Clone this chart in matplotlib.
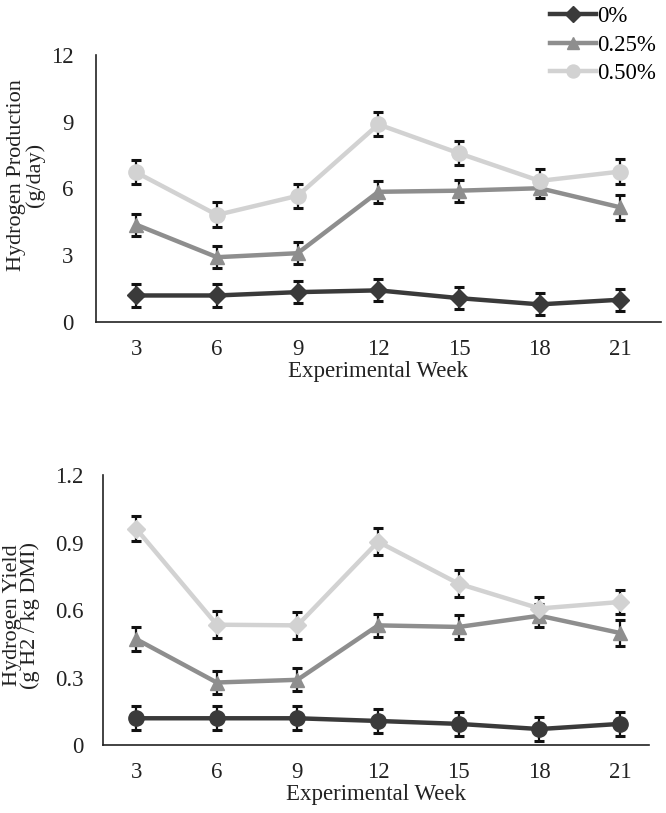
import matplotlib
matplotlib.use("Agg")
from matplotlib import pyplot as plt

plt.rcParams['font.family'] = ['Liberation Serif', 'DejaVu Serif']

# experimental weeks (x axis)
weeks = [3, 6, 9, 12, 15, 18, 21]
labels = ["0%", "0.25%", "0.50%"]

# hydrogen production, g/day
prod_0 = [1.19, 1.19, 1.34, 1.42, 1.07, 0.79, 1.00]
prod_025 = [4.37, 2.91, 3.09, 5.85, 5.90, 6.01, 5.15]
prod_050 = [6.72, 4.81, 5.67, 8.88, 7.58, 6.34, 6.76]
prod_0_err = [0.50, 0.50, 0.50, 0.50, 0.50, 0.50, 0.50]
prod_025_err = [0.49, 0.49, 0.49, 0.49, 0.49, 0.45, 0.56]
prod_050_err = [0.54, 0.56, 0.54, 0.54, 0.54, 0.52, 0.56]

# hydrogen yield, g H2 / kg DMI
yield_0 = [0.119, 0.119, 0.119, 0.107, 0.094, 0.071, 0.094]
yield_025 = [0.471, 0.278, 0.290, 0.532, 0.525, 0.575, 0.498]
yield_050 = [0.962, 0.535, 0.532, 0.904, 0.717, 0.607, 0.636]
yield_0_err = [0.053, 0.053, 0.053, 0.053, 0.053, 0.053, 0.053]
yield_025_err = [0.052, 0.052, 0.052, 0.052, 0.052, 0.052, 0.058]
yield_050_err = [0.057, 0.059, 0.059, 0.059, 0.059, 0.05, 0.052]

colors = ["#3a3a3a", "#8e8e8e", "#d2d2d2"]
msizes = {'D': 9.5, '^': 10, 'o': 11}


def draw_series(ax, values, errs, color, marker, label=None):
    # error bars first so the markers sit on top
    ax.errorbar(weeks, values, yerr=errs, fmt='none', ecolor='#111111',
                elinewidth=1.6, capsize=3.5, capthick=2.2, zorder=2)
    ax.plot(weeks, values, color=color, lw=3.2, marker=marker,
            markersize=msizes[marker], label=label, zorder=3)


def style_axis(ax, yticks, ylim, xlim, ylabel, label_xy, tick_pad, lsp):
    ax.set_ylim(*ylim)
    ax.set_xlim(*xlim)
    ax.set_yticks(yticks)
    ax.set_xticks(weeks)
    ax.set_xticklabels([str(w) for w in weeks])
    ax.tick_params(length=0, labelsize=16.5, colors='#222222')
    ax.tick_params(axis='y', pad=tick_pad)
    ax.tick_params(axis='x', pad=12)
    for s in ['top', 'right']:
        ax.spines[s].set_visible(False)
    for s in ['left', 'bottom']:
        ax.spines[s].set_color('#222222')
        ax.spines[s].set_linewidth(1.2)
    ax.set_xlabel("Experimental Week", fontsize=16.5, labelpad=1, color='#222222')
    ax.set_ylabel(ylabel, fontsize=16, color='#222222', linespacing=lsp)
    ax.yaxis.set_label_coords(*label_xy)


fig = plt.figure(figsize=(6.66, 8.13), dpi=100)

# top panel: production
ax1 = fig.add_axes([0.1441, 0.604, 0.848, 0.3284])
draw_series(ax1, prod_0, prod_0_err, colors[0], 'D', labels[0])
draw_series(ax1, prod_025, prod_025_err, colors[1], '^', labels[1])
draw_series(ax1, prod_050, prod_050_err, colors[2], 'o', labels[2])
style_axis(ax1, [0, 3, 6, 9, 12], (0, 12), (1.5, 22.5),
           "Hydrogen Production\n(g/day)", (-0.09, 0.55), 16, 0.95)

# bottom panel: yield
ax2 = fig.add_axes([0.1547, 0.0836, 0.820, 0.332])
draw_series(ax2, yield_0, yield_0_err, colors[0], 'o')
draw_series(ax2, yield_025, yield_025_err, colors[1], '^')
draw_series(ax2, yield_050, yield_050_err, colors[2], 'D')
style_axis(ax2, [0, 0.3, 0.6, 0.9, 1.2], (0, 1.2), (1.77, 22.08),
           "Hydrogen Yield\n(g H2 / kg DMI)", (-0.115, 0.48), 14, 0.9)
ax2.set_yticklabels(["0", "0.3", "0.6", "0.9", "1.2"])

handles, lbls = ax1.get_legend_handles_labels()
fig.legend(handles, lbls, loc='upper left', bbox_to_anchor=(0.802, 1.012),
           frameon=False, fontsize=16.5, handlelength=2.0, handletextpad=0.05,
           labelspacing=0.32, borderpad=0.2, markerscale=0.85)

fig.savefig("out.png", dpi=100)
